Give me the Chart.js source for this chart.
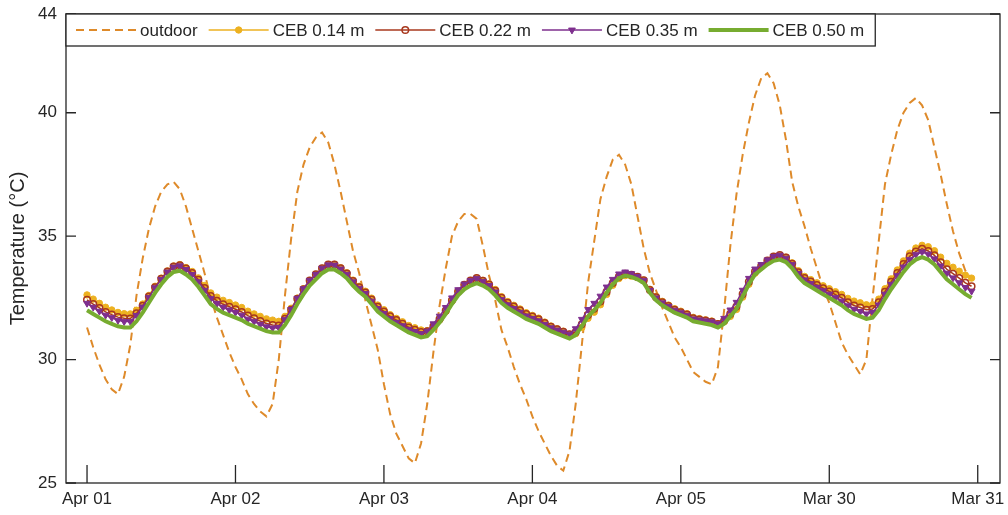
<!DOCTYPE html>
<html>
<head>
<meta charset="utf-8">
<script src="https://cdn.jsdelivr.net/npm/chart.js@4"></script>
<style>
  body { margin: 0; background: #fff; }
  #wrap { width: 1008px; height: 515px; }
</style>
</head>
<body>
<div id="wrap"><canvas id="tempChart" width="1008" height="515"></canvas></div>
<script>
// hourly temperatures, 6 days x 24 h
const dayLabels = ['Apr 01', 'Apr 02', 'Apr 03', 'Apr 04', 'Apr 05', 'Mar 30', 'Mar 31'];
const yTickValues = [25, 30, 35, 40, 44];
const seriesNames = ['outdoor', 'CEB 0.14 m', 'CEB 0.22 m', 'CEB 0.35 m', 'CEB 0.50 m'];

const outdoor = [
  31.3, 30.5, 29.8, 29.2, 28.8, 28.6, 29.3, 30.6, 32.6, 34.1, 35.3, 36.2, 36.8, 37.1, 37.2, 36.9, 36.2, 35.3, 34.4, 33.5, 32.5, 31.7, 31.0, 30.3,
  29.7, 29.2, 28.6, 28.2, 27.9, 27.7, 28.2, 30.0, 32.6, 34.9, 36.8, 37.9, 38.6, 39.0, 39.2, 38.8, 37.9, 36.8, 35.6, 34.4, 33.5, 32.4, 31.4, 30.4,
  29.0, 27.8, 27.0, 26.5, 26.0, 25.8, 26.6, 28.2, 30.3, 32.2, 33.7, 35.0, 35.6, 35.9, 35.9, 35.7, 34.6, 33.4, 32.4, 31.2, 30.5, 29.7, 29.0, 28.4,
  27.7, 27.1, 26.6, 26.1, 25.7, 25.5, 26.3, 28.2, 30.6, 33.1, 34.8, 36.5, 37.4, 38.1, 38.3, 37.9, 37.1, 35.8, 34.5, 33.5, 32.8, 32.1, 31.5, 30.9,
  30.5, 30.0, 29.5, 29.3, 29.1, 29.0, 29.7, 32.0, 34.6, 36.7, 38.3, 39.6, 40.7, 41.4, 41.6, 41.2, 40.3, 38.9, 37.2, 36.2, 35.4, 34.5, 33.7, 32.9,
  32.3, 31.5, 30.7, 30.2, 29.8, 29.4, 30.0, 32.5, 34.8, 37.1, 38.3, 39.3, 40.0, 40.4, 40.6, 40.3, 39.7, 38.6, 37.5, 36.3, 35.2, 34.3, 33.6, 33.3
];

const ceb014 = [
  32.62, 32.45, 32.28, 32.12, 32.01, 31.91, 31.86, 31.85, 32.00, 32.25, 32.60, 32.97, 33.30, 33.59, 33.79, 33.85, 33.73, 33.57, 33.31, 33.00, 32.70, 32.53, 32.40, 32.31,
  32.21, 32.11, 31.96, 31.85, 31.75, 31.65, 31.60, 31.55, 31.75, 32.08, 32.49, 32.87, 33.20, 33.45, 33.70, 33.85, 33.86, 33.72, 33.52, 33.22, 32.97, 32.77, 32.49, 32.21,
  32.02, 31.82, 31.67, 31.53, 31.38, 31.29, 31.20, 31.17, 31.32, 31.60, 31.95, 32.37, 32.75, 33.03, 33.20, 33.30, 33.21, 33.07, 32.84, 32.55, 32.35, 32.20, 32.05, 31.90,
  31.79, 31.68, 31.52, 31.36, 31.25, 31.15, 31.03, 31.05, 31.30, 31.67, 31.92, 32.22, 32.64, 33.01, 33.28, 33.40, 33.38, 33.33, 33.22, 32.85, 32.56, 32.36, 32.21, 32.06,
  31.96, 31.86, 31.71, 31.66, 31.61, 31.56, 31.46, 31.53, 31.75, 32.03, 32.53, 33.05, 33.50, 33.75, 33.99, 34.17, 34.23, 34.15, 33.92, 33.60, 33.37, 33.24, 33.11, 32.99,
  32.87, 32.75, 32.64, 32.48, 32.37, 32.30, 32.22, 32.22, 32.45, 32.87, 33.27, 33.63, 34.00, 34.31, 34.52, 34.63, 34.57, 34.41, 34.15, 33.90, 33.74, 33.58, 33.42, 33.30
];

const ceb022 = [
  32.42, 32.25, 32.09, 31.93, 31.82, 31.72, 31.67, 31.66, 31.87, 32.18, 32.55, 32.93, 33.27, 33.57, 33.77, 33.82, 33.69, 33.51, 33.23, 32.90, 32.57, 32.38, 32.24, 32.14,
  32.04, 31.93, 31.78, 31.67, 31.56, 31.46, 31.40, 31.38, 31.65, 32.02, 32.46, 32.85, 33.20, 33.45, 33.70, 33.85, 33.85, 33.70, 33.49, 33.18, 32.93, 32.72, 32.43, 32.14,
  31.95, 31.75, 31.60, 31.45, 31.30, 31.21, 31.12, 31.15, 31.35, 31.64, 31.99, 32.40, 32.76, 33.03, 33.20, 33.30, 33.19, 33.04, 32.79, 32.50, 32.30, 32.15, 32.00, 31.84,
  31.74, 31.63, 31.48, 31.33, 31.23, 31.13, 31.02, 31.12, 31.43, 31.81, 32.06, 32.35, 32.75, 33.10, 33.36, 33.47, 33.43, 33.35, 33.21, 32.82, 32.52, 32.32, 32.17, 32.02,
  31.92, 31.82, 31.67, 31.62, 31.58, 31.53, 31.44, 31.57, 31.85, 32.15, 32.65, 33.15, 33.57, 33.79, 34.01, 34.17, 34.23, 34.13, 33.88, 33.54, 33.30, 33.16, 33.02, 32.89,
  32.76, 32.63, 32.50, 32.32, 32.19, 32.11, 32.02, 32.05, 32.32, 32.75, 33.15, 33.51, 33.87, 34.18, 34.38, 34.49, 34.40, 34.22, 33.94, 33.66, 33.48, 33.30, 33.11, 32.97
];

const ceb035 = [
  32.28, 32.12, 31.96, 31.80, 31.70, 31.59, 31.54, 31.54, 31.79, 32.13, 32.52, 32.91, 33.25, 33.55, 33.75, 33.80, 33.65, 33.45, 33.15, 32.81, 32.47, 32.27, 32.12, 32.01,
  31.91, 31.80, 31.64, 31.54, 31.43, 31.33, 31.28, 31.30, 31.62, 32.03, 32.48, 32.87, 33.21, 33.45, 33.70, 33.84, 33.83, 33.67, 33.46, 33.15, 32.89, 32.68, 32.37, 32.07,
  31.87, 31.66, 31.51, 31.37, 31.23, 31.14, 31.05, 31.15, 31.45, 31.76, 32.11, 32.50, 32.83, 33.06, 33.20, 33.29, 33.17, 33.00, 32.74, 32.43, 32.22, 32.07, 31.92, 31.77,
  31.67, 31.57, 31.43, 31.29, 31.20, 31.11, 31.03, 31.25, 31.63, 32.03, 32.28, 32.57, 32.94, 33.25, 33.47, 33.55, 33.48, 33.37, 33.20, 32.80, 32.50, 32.30, 32.15, 32.00,
  31.90, 31.80, 31.65, 31.61, 31.57, 31.53, 31.45, 31.67, 32.01, 32.32, 32.81, 33.29, 33.67, 33.85, 34.04, 34.18, 34.23, 34.11, 33.85, 33.49, 33.23, 33.08, 32.93, 32.79,
  32.65, 32.51, 32.37, 32.18, 32.04, 31.95, 31.85, 31.91, 32.21, 32.65, 33.05, 33.40, 33.75, 34.05, 34.25, 34.36, 34.27, 34.08, 33.79, 33.50, 33.31, 33.11, 32.92, 32.77
];

const ceb050 = [
  32.00, 31.85, 31.70, 31.55, 31.45, 31.35, 31.30, 31.30, 31.55, 31.90, 32.30, 32.70, 33.05, 33.35, 33.55, 33.60, 33.45, 33.25, 32.95, 32.60, 32.25, 32.05, 31.90, 31.80,
  31.70, 31.60, 31.45, 31.35, 31.25, 31.15, 31.10, 31.10, 31.40, 31.80, 32.25, 32.65, 33.00, 33.25, 33.50, 33.65, 33.65, 33.50, 33.30, 33.00, 32.75, 32.55, 32.25, 31.95,
  31.75, 31.55, 31.40, 31.25, 31.10, 31.00, 30.90, 30.95, 31.20, 31.50, 31.85, 32.25, 32.60, 32.85, 33.00, 33.10, 33.00, 32.85, 32.60, 32.30, 32.10, 31.95, 31.80, 31.65,
  31.55, 31.45, 31.30, 31.15, 31.05, 30.95, 30.85, 31.00, 31.35, 31.75, 32.00, 32.30, 32.70, 33.05, 33.30, 33.40, 33.35, 33.25, 33.10, 32.70, 32.40, 32.20, 32.05, 31.90,
  31.80, 31.70, 31.55, 31.50, 31.45, 31.40, 31.30, 31.45, 31.75, 32.05, 32.55, 33.05, 33.45, 33.65, 33.85, 34.00, 34.05, 33.95, 33.70, 33.35, 33.10, 32.95, 32.80, 32.65,
  32.50, 32.35, 32.20, 32.00, 31.85, 31.75, 31.65, 31.70, 32.00, 32.45, 32.85, 33.20, 33.55, 33.85, 34.05, 34.15, 34.05, 33.85, 33.55, 33.25, 33.05, 32.85, 32.65, 32.50
];

const hours = outdoor.map((v, i) => i);
const dayTicks = dayLabels.map((d, i) => i * 24);

const axisColor = '#262626';
const fontFamily = '"Liberation Sans", Arial, sans-serif';

function toPoints(arr) {
  return arr.map((v, i) => ({ x: hours[i], y: v }));
}

// inward tick marks, box and legend, drawn the way the plotting tool does it
const framePlugin = {
  id: 'frame',
  afterDraw(chart) {
    const ctx = chart.ctx;
    const a = chart.chartArea;
    const xs = chart.scales.x;
    const ys = chart.scales.y;
    ctx.save();
    ctx.strokeStyle = axisColor;
    ctx.lineWidth = 1.3;
    ctx.strokeRect(a.left, a.top, a.right - a.left, a.bottom - a.top);

    ctx.beginPath();
    yTickValues.forEach(v => {
      const py = ys.getPixelForValue(v);
      ctx.moveTo(a.left, py); ctx.lineTo(a.left + 10, py);
      ctx.moveTo(a.right, py); ctx.lineTo(a.right - 10, py);
    });
    dayTicks.forEach(h => {
      const px = xs.getPixelForValue(h);
      ctx.moveTo(px, a.bottom); ctx.lineTo(px, a.bottom - 18);
    });
    ctx.stroke();

    // legend box
    const lx = a.left, ly = a.top, lh = 32;
    ctx.font = '17px ' + fontFamily;
    let x = lx + 10;
    const items = chart.data.datasets;
    const widths = items.map(d => ctx.measureText(d.label).width);
    const lw = widths.reduce((s, w) => s + 60 + 4 + w + 11, 10);
    ctx.fillStyle = '#fff';
    ctx.fillRect(lx, ly, lw, lh);
    ctx.strokeRect(lx, ly, lw, lh);
    const cy = ly + lh / 2;
    items.forEach((d, i) => {
      ctx.save();
      ctx.strokeStyle = d.borderColor;
      ctx.lineWidth = d.borderWidth;
      ctx.setLineDash(d.borderDash || []);
      ctx.beginPath();
      ctx.moveTo(x, cy); ctx.lineTo(x + 60, cy);
      ctx.stroke();
      ctx.restore();
      if (d.pointRadius > 0) {
        ctx.save();
        ctx.fillStyle = d.pointBackgroundColor;
        ctx.strokeStyle = d.pointBorderColor;
        ctx.lineWidth = d.pointBorderWidth;
        Chart.helpers.drawPoint(ctx, {
          pointStyle: d.pointStyle,
          rotation: d.pointRotation || 0,
          radius: d.pointRadius,
          borderWidth: d.pointBorderWidth
        }, x + 30, cy);
        ctx.restore();
      }
      ctx.fillStyle = axisColor;
      ctx.textBaseline = 'middle';
      ctx.textAlign = 'left';
      ctx.fillText(d.label, x + 64, cy + 1);
      x += 60 + 4 + widths[i] + 11;
    });
    ctx.restore();
  }
};

const ctx = document.getElementById('tempChart').getContext('2d');
const tempChart = new Chart(ctx, {
  type: 'line',
  data: {
    datasets: [
      {
        label: seriesNames[0], data: toPoints(outdoor), order: 5,
        borderColor: '#DE8A2A', borderWidth: 2, borderDash: [8, 5],
        pointRadius: 0
      },
      {
        label: seriesNames[1], data: toPoints(ceb014), order: 4,
        borderColor: '#EDB120', borderWidth: 1.5,
        pointStyle: 'circle', pointRadius: 3.2, pointBorderWidth: 1,
        pointBackgroundColor: '#EDB120', pointBorderColor: '#EDB120'
      },
      {
        label: seriesNames[2], data: toPoints(ceb022), order: 3,
        borderColor: '#A8381E', borderWidth: 1.5,
        pointStyle: 'circle', pointRadius: 3.3, pointBorderWidth: 1.5,
        pointBackgroundColor: 'rgba(255,255,255,0)', pointBorderColor: '#A8381E'
      },
      {
        label: seriesNames[3], data: toPoints(ceb035), order: 2,
        borderColor: '#7E2F8E', borderWidth: 1.5,
        pointStyle: 'triangle', pointRotation: 180, pointRadius: 3.9, pointBorderWidth: 1,
        pointBackgroundColor: '#7E2F8E', pointBorderColor: '#7E2F8E'
      },
      {
        label: seriesNames[4], data: toPoints(ceb050), order: 1,
        borderColor: '#77AC30', borderWidth: 4,
        pointRadius: 0
      }
    ]
  },
  options: {
    responsive: false,
    animation: false,
    layout: { padding: { left: 0, right: 8, top: 14, bottom: 0 } },
    plugins: { legend: { display: false }, tooltip: { enabled: false } },
    scales: {
      x: {
        type: 'linear',
        min: -3.4,
        max: 147.6,
        afterBuildTicks: s => { s.ticks = dayTicks.map(v => ({ value: v })); },
        afterFit: s => { s.height = 32; s.paddingLeft = 0; s.paddingRight = 0; },
        grid: { display: false, drawTicks: false },
        border: { display: false },
        ticks: {
          color: axisColor,
          font: { family: fontFamily, size: 17 },
          padding: 6,
          maxRotation: 0,
          autoSkip: false,
          callback: v => dayLabels[dayTicks.indexOf(v)]
        }
      },
      y: {
        min: 25,
        max: 44,
        afterBuildTicks: s => { s.ticks = yTickValues.map(v => ({ value: v })); },
        afterFit: s => { s.width = 66; s.paddingTop = 0; s.paddingBottom = 0; },
        grid: { display: false, drawTicks: false },
        border: { display: false },
        ticks: {
          color: axisColor,
          font: { family: fontFamily, size: 17 },
          padding: 9,
          autoSkip: false
        },
        title: {
          display: true,
          text: 'Temperature (°C)',
          color: axisColor,
          font: { family: fontFamily, size: 20 },
          padding: { top: 6, bottom: 0 }
        }
      }
    }
  },
  plugins: [framePlugin]
});
</script>
</body>
</html>
